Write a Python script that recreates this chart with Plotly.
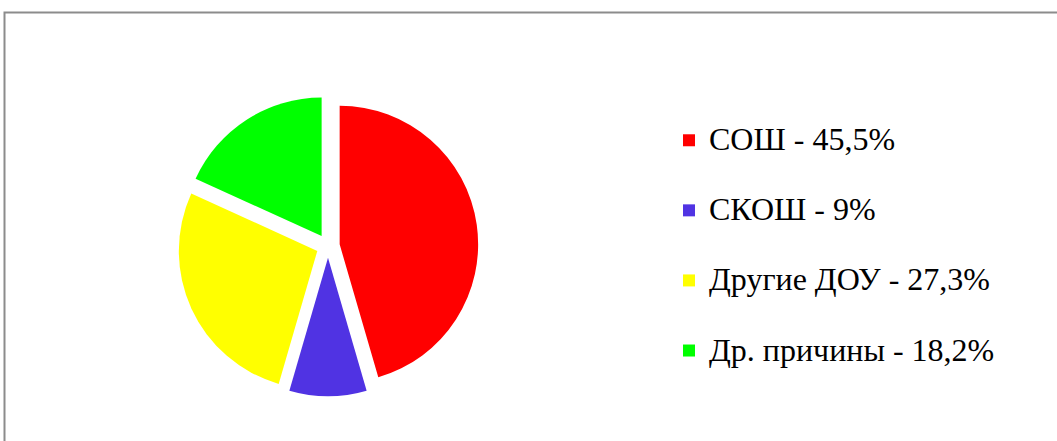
import plotly.graph_objects as go

categories = ["СОШ", "СКОШ", "Другие ДОУ", "Др. причины"]
values = [45.5, 9, 27.3, 18.2]
colors = ["#FF0000", "#5033E3", "#FFFF00", "#00FF00"]


def fmt(v):
    s = str(int(v)) if float(v).is_integer() else str(v)
    return s.replace(".", ",")


labels = [
    f"<span style='font-size:32px'>{c} - {fmt(v)}%</span><br> "
    for c, v in zip(categories, values)
]

W, H = 1057, 441
cx, cy, side = 328, 246, 300.5

fig = go.Figure(
    go.Pie(
        labels=labels,
        values=values,
        sort=False,
        direction="clockwise",
        rotation=0,
        pull=[0.085] * 4,
        marker=dict(colors=colors, line=dict(width=0)),
        textinfo="none",
        hoverinfo="label+value",
        domain=dict(
            x=[(cx - side / 2) / W, (cx + side / 2) / W],
            y=[1 - (cy + side / 2) / H, 1 - (cy - side / 2) / H],
        ),
    )
)

fig.update_layout(
    width=W,
    height=H,
    margin=dict(l=0, r=0, t=0, b=0),
    paper_bgcolor="white",
    plot_bgcolor="white",
    showlegend=True,
    legend=dict(
        x=669 / W,
        xanchor="left",
        y=1 - 117 / H,
        yanchor="top",
        font=dict(family="Liberation Serif, Times New Roman, serif", size=25.8, color="black"),
        valign="top",
        bgcolor="rgba(0,0,0,0)",
    ),
    shapes=[
        dict(
            type="rect",
            xref="paper",
            yref="paper",
            x0=4.5 / W,
            x1=1.05,
            y0=-0.05,
            y1=1 - 12.5 / H,
            line=dict(color="#8C8C8C", width=2),
            fillcolor="rgba(0,0,0,0)",
            layer="below",
        )
    ],
)

fig.write_html(
    "out.html",
    config={"displayModeBar": False},
    post_script="document.body.style.margin='0';document.body.style.overflow='hidden';",
)
